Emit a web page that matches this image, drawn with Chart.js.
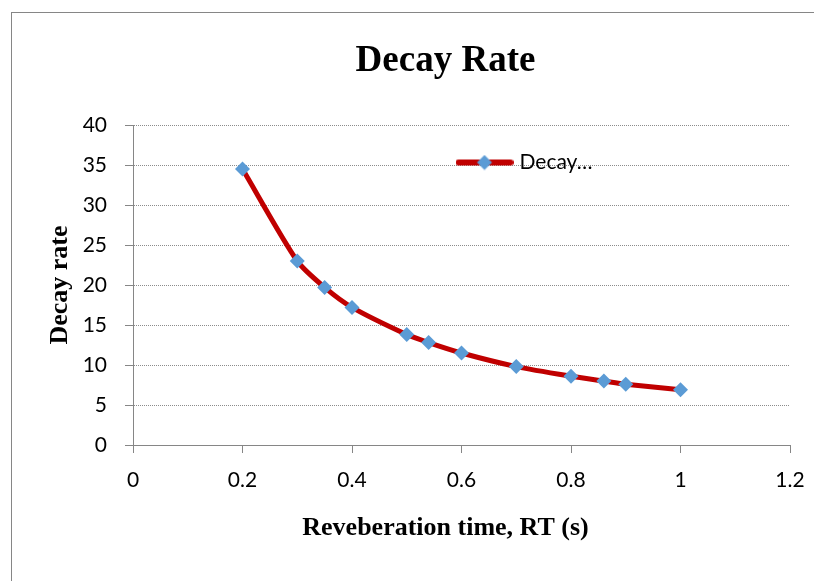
<!DOCTYPE html>
<html>
<head>
<meta charset="utf-8">
<script src="https://cdn.jsdelivr.net/npm/chart.js@4.4.1/dist/chart.umd.min.js"></script>
<style>
  body { margin: 0; background: #fff; }
  #wrap { position: relative; width: 814px; height: 581px; overflow: hidden; background: #fff; }
  #frame { position: absolute; left: 11px; top: 12px; width: 900px; height: 700px;
           border-top: 1px solid #868686; border-left: 1px solid #868686; }
  canvas { position: absolute; left: 0; top: 0; }
</style>
</head>
<body>
<div id="wrap">
  <div id="frame"></div>
  <canvas id="decay-chart" width="814" height="581"></canvas>
</div>
<script>
// Reverberation time (s) and measured decay rate
const rtValues = [0.2, 0.3, 0.35, 0.4, 0.5, 0.54, 0.6, 0.7, 0.8, 0.86, 0.9, 1.0];
const decayRates = [34.5, 23.0, 19.7, 17.2, 13.8, 12.8, 11.5, 9.8, 8.6, 8.0, 7.6, 6.9];
const xTickLabels = ["0", "0.2", "0.4", "0.6", "0.8", "1", "1.2"];
const yTickLabels = ["0", "5", "10", "15", "20", "25", "30", "35", "40"];

const chartTitle = "Decay Rate";
const xTitle = "Reveberation time, RT (s)";
const yTitle = "Decay rate";

const lineColor = "#C00000";
const markerColor = "#5B9BD5";
const axisColor = "#868686";
const tickFont = { family: "Lato", size: 21 };
const axisTitleFont = { family: "Liberation Serif", weight: "bold", size: 26, lineHeight: 1.2 };

// legend symbol: short red line with a diamond on it
function legendSymbol() {
  const c = document.createElement("canvas");
  c.width = 58;
  c.height = 16;
  const g = c.getContext("2d");
  g.strokeStyle = lineColor;
  g.lineWidth = 6;
  g.lineCap = "round";
  g.beginPath();
  g.moveTo(3, 8);
  g.lineTo(55, 8);
  g.stroke();
  g.fillStyle = markerColor;
  g.beginPath();
  g.moveTo(29, 0.5);
  g.lineTo(36.5, 8);
  g.lineTo(29, 15.5);
  g.lineTo(21.5, 8);
  g.closePath();
  g.fill();
  return c;
}

// put the titles and legend where the original has them
const placeBlocks = {
  id: "placeBlocks",
  afterLayout(chart) {
    chart.boxes.forEach(b => {
      if (b.options && (b.options.text === chartTitle || b.options.text === xTitle)) {
        b.left = 11;
        b.right = 880;
      }
    });
    const lg = chart.legend;
    if (lg) {
      lg.left = 450;
      lg.right = 700;
      lg.top = 142;
      lg.bottom = 200;
    }
  }
};

const ctx = document.getElementById("decay-chart").getContext("2d");
new Chart(ctx, {
  type: "scatter",
  data: {
    datasets: [{
      label: "Decay…",
      data: rtValues.map((x, i) => ({ x: x, y: decayRates[i] })),
      showLine: true,
      borderColor: lineColor,
      borderWidth: 5,
      borderJoinStyle: "round",
      borderCapStyle: "round",
      tension: 0.25,
      pointStyle: "rectRot",
      pointRadius: 7.5,
      pointBackgroundColor: markerColor,
      pointBorderWidth: 0
    }]
  },
  options: {
    responsive: false,
    animation: false,
    layout: { padding: { left: 11, right: 24, top: 0, bottom: 0 } },
    plugins: {
      title: {
        display: true,
        text: chartTitle,
        color: "#000",
        font: { family: "Liberation Serif", weight: "bold", size: 37, lineHeight: 1.2 },
        padding: { top: 39.5, bottom: 41.1 }
      },
      subtitle: {
        display: true,
        position: "bottom",
        text: xTitle,
        color: "#000",
        font: axisTitleFont,
        padding: { top: 4, bottom: 37.4 }
      },
      legend: {
        position: "chartArea",
        align: "start",
        labels: {
          usePointStyle: true,
          pointStyle: legendSymbol(),
          pointStyleWidth: 49,
          padding: 10,
          color: "#000",
          font: tickFont
        }
      },
      tooltip: { enabled: false }
    },
    scales: {
      x: {
        type: "linear",
        min: 0,
        max: 1.2,
        ticks: {
          stepSize: 0.2,
          color: "#000",
          font: tickFont,
          padding: 15,
          callback: (v) => xTickLabels[Math.round(v / 0.2)]
        },
        grid: {
          drawOnChartArea: false,
          drawTicks: true,
          tickLength: 8,
          tickColor: axisColor,
          tickWidth: 1
        },
        border: { color: axisColor, width: 1 },
        afterFit: (scale) => {
          scale.height = 63.4;
          scale.paddingLeft = 0;
          scale.paddingRight = 0;
        }
      },
      y: {
        min: 0,
        max: 40,
        ticks: {
          stepSize: 5,
          color: "#000",
          font: tickFont,
          padding: 18,
          callback: (v) => yTickLabels[Math.round(v / 5)]
        },
        grid: {
          color: "#8c8c8c",
          lineWidth: 1,
          tickLength: 8,
          tickColor: axisColor,
          tickBorderDash: []
        },
        border: { color: axisColor, width: 1, dash: [1, 1] },
        title: {
          display: true,
          text: yTitle,
          color: "#000",
          font: axisTitleFont,
          padding: { top: 33.4, bottom: 0 }
        },
        afterFit: (scale) => { scale.width = 122; }
      }
    }
  },
  plugins: [placeBlocks]
});
</script>
</body>
</html>
